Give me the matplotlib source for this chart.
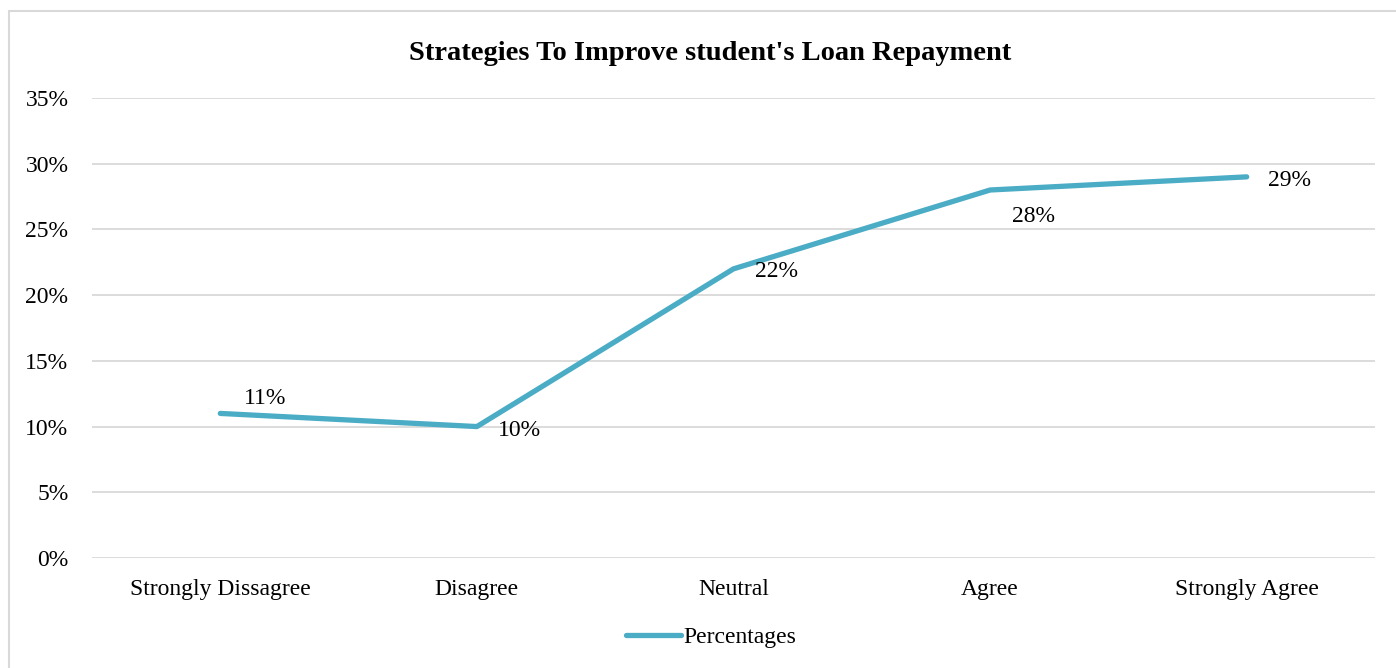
import matplotlib.pyplot as plt
from matplotlib.patches import Rectangle
from matplotlib.ticker import PercentFormatter

categories = ["Strongly Dissagree", "Disagree", "Neutral", "Agree", "Strongly Agree"]
percentages = [11, 10, 22, 28, 29]
# label offsets (pixels) relative to each point
label_dx = [45, 43, 43, 43, 43]
label_dy = [15, -4, -3, -26, -4]

plt.rcParams['font.family'] = ['Liberation Serif', 'DejaVu Serif']

fig = plt.figure(figsize=(13.96, 6.68), dpi=100)
ax = fig.add_axes([92/1396, 1-558/668, (1375-92)/1396, (558-98)/668])

x = list(range(len(categories)))
line, = ax.plot(x, percentages, color="#4BACC6", lw=3.8, solid_capstyle="round",
                label="Percentages", zorder=3)

for xi, v, dx, dy in zip(x, percentages, label_dx, label_dy):
    ax.annotate(f"{v}%", (xi, v), xytext=(dx*0.72, dy*0.72), textcoords="offset points",
                ha="center", va="center", fontsize=17, color="black")

ax.set_xlim(-0.5, 4.5)
ax.set_ylim(0, 35)
ax.set_yticks(range(0, 36, 5))
ax.yaxis.set_major_formatter(PercentFormatter(decimals=0))
ax.set_xticks(x)
ax.set_xticklabels(categories)
ax.tick_params(axis="both", length=0, labelsize=17, colors="black")
ax.tick_params(axis="x", pad=15)
ax.tick_params(axis="y", pad=17)
ax.grid(axis="y", color="#D9D9D9", lw=1.3)
for s in ax.spines.values():
    s.set_visible(False)

fig.text(710/1396, 1-53/668, "Strategies To Improve student's Loan Repayment",
         ha="center", va="center", fontsize=20.5, fontweight="bold")

fig.legend(handles=[line], loc="center", bbox_to_anchor=(711/1396, 1-637/668),
           frameon=False, fontsize=17, handlelength=2.3, handletextpad=0.1)

fig.patches.append(Rectangle((9/1396, -0.05), 1.1, 1-11/668+0.05, transform=fig.transFigure,
                             fill=False, edgecolor="#D9D9D9", lw=1.5))

fig.savefig("out.png", dpi=100)
